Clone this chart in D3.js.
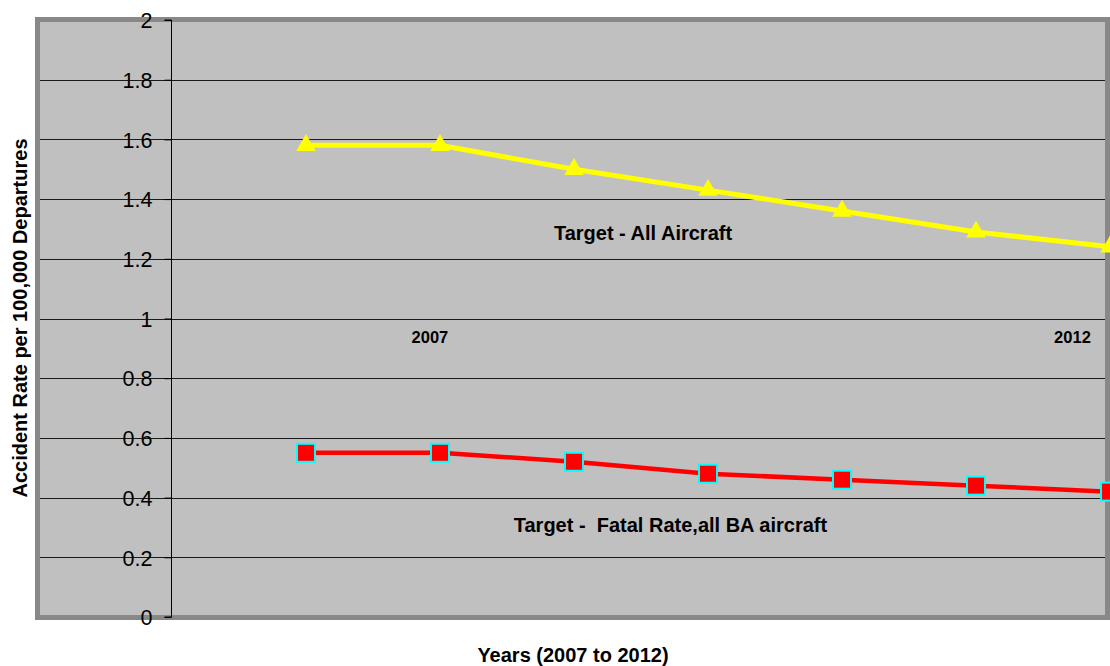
<!DOCTYPE html>
<html lang="en">
<head>
<meta charset="UTF-8">
<title>Accident rate targets</title>
<script src="https://d3js.org/d3.v7.min.js"></script>
<style>
  body { margin: 0; background: #fff; }
  svg { display: block; font-family: "Liberation Sans", Arial, sans-serif; }
  text { white-space: pre; }
</style>
</head>
<body>
<div id="chart"></div>
<script>
// data
var years = [2007, 2008, 2009, 2010, 2011, 2012, 2013];
var allAircraft = [1.58, 1.58, 1.50, 1.43, 1.36, 1.29, 1.24];
var fatalRate = [0.55, 0.55, 0.52, 0.48, 0.46, 0.44, 0.42];
var yTicks = [0, 0.2, 0.4, 0.6, 0.8, 1, 1.2, 1.4, 1.6, 1.8, 2];
var yTickLabels = ["0", "0.2", "0.4", "0.6", "0.8", "1", "1.2", "1.4", "1.6", "1.8", "2"];

var width = 1110, height = 666;

var svg = d3.select("#chart")
  .append("svg")
    .attr("width", width)
    .attr("height", height);

// slot 0 is the axis, the points sit in slots 1..7
var x = d3.scaleLinear().domain([0, 7]).range([172, 1110]);
var y = d3.scaleLinear().domain([0, 2]).range([617, 20]);

// grey plot box
svg.append("rect")
    .attr("x", 37.5)
    .attr("y", 19.5)
    .attr("width", 1070)
    .attr("height", 598)
    .attr("fill", "#c0c0c0")
    .attr("stroke", "#888888")
    .attr("stroke-width", 5);

// gridlines run across the whole box
svg.append("g")
  .selectAll("line")
  .data(yTicks.filter(function(d) { return d > 0 && d < 2; }))
  .enter().append("line")
    .attr("x1", 40)
    .attr("x2", 1105)
    .attr("y1", function(d) { return Math.round(y(d)) + 0.5; })
    .attr("y2", function(d) { return Math.round(y(d)) + 0.5; })
    .attr("stroke", "#1a1a1a")
    .attr("stroke-width", 1);

// y axis
var yAxis = svg.append("g")
    .attr("transform", "translate(171.5,0)")
    .call(d3.axisLeft(y)
      .tickValues(yTicks)
      .tickSize(7)
      .tickPadding(12)
      .tickFormat(function(d, i) { return yTickLabels[i]; }));
yAxis.select(".domain").attr("stroke", "#000").attr("d", "M-7," + y(2) + "H0V" + y(0) + "H-7");
yAxis.selectAll(".tick line").attr("stroke", "#000");
yAxis.selectAll(".tick text")
    .attr("fill", "#000")
    .attr("dy", "0.36em")
    .style("font-size", "21.5px")
    .style("font-family", "'Liberation Sans', Arial, sans-serif");

var line = d3.line()
    .x(function(d, i) { return x(i + 1); })
    .y(function(d) { return y(d); });

// all aircraft series
svg.append("path")
    .datum(allAircraft)
    .attr("d", line)
    .attr("fill", "none")
    .attr("stroke", "#ffff00")
    .attr("stroke-width", 5);

svg.append("g")
  .selectAll("path")
  .data(allAircraft)
  .enter().append("path")
    .attr("transform", function(d, i) { return "translate(" + x(i + 1) + "," + y(d) + ")"; })
    .attr("d", d3.symbol().type(d3.symbolTriangle).size(165))
    .attr("fill", "#ffff00");

// fatal rate series
svg.append("path")
    .datum(fatalRate)
    .attr("d", line)
    .attr("fill", "none")
    .attr("stroke", "#ff0000")
    .attr("stroke-width", 4.5);

svg.append("g")
  .selectAll("rect")
  .data(fatalRate)
  .enter().append("rect")
    .attr("x", function(d, i) { return x(i + 1) - 9; })
    .attr("y", function(d) { return y(d) - 9; })
    .attr("width", 18)
    .attr("height", 18)
    .attr("fill", "#ff0000")
    .attr("stroke", "#00ffff")
    .attr("stroke-width", 2);

// text labels inside the plot
function label(txt, xv, yv, size) {
  svg.append("text")
      .attr("x", x(xv))
      .attr("y", y(yv))
      .attr("text-anchor", "middle")
      .attr("font-weight", "bold")
      .attr("font-size", size)
      .attr("fill", "#000")
      .text(txt);
}
label("2007", 1.925, 0.918, "16.5px");
label("2012", 6.72, 0.918, "16.5px");
label("Target - All Aircraft", 3.515, 1.263, "20px");
label("Target -  Fatal Rate,all BA aircraft", 3.72, 0.285, "20px");

// axis titles
svg.append("text")
    .attr("x", 573)
    .attr("y", 662)
    .attr("text-anchor", "middle")
    .attr("font-weight", "bold")
    .attr("font-size", "20px")
    .text("Years (2007 to 2012)");

svg.append("text")
    .attr("transform", "translate(27,318) rotate(-90)")
    .attr("text-anchor", "middle")
    .attr("font-weight", "bold")
    .attr("font-size", "20px")
    .text("Accident Rate per 100,000 Departures");
</script>
</body>
</html>
